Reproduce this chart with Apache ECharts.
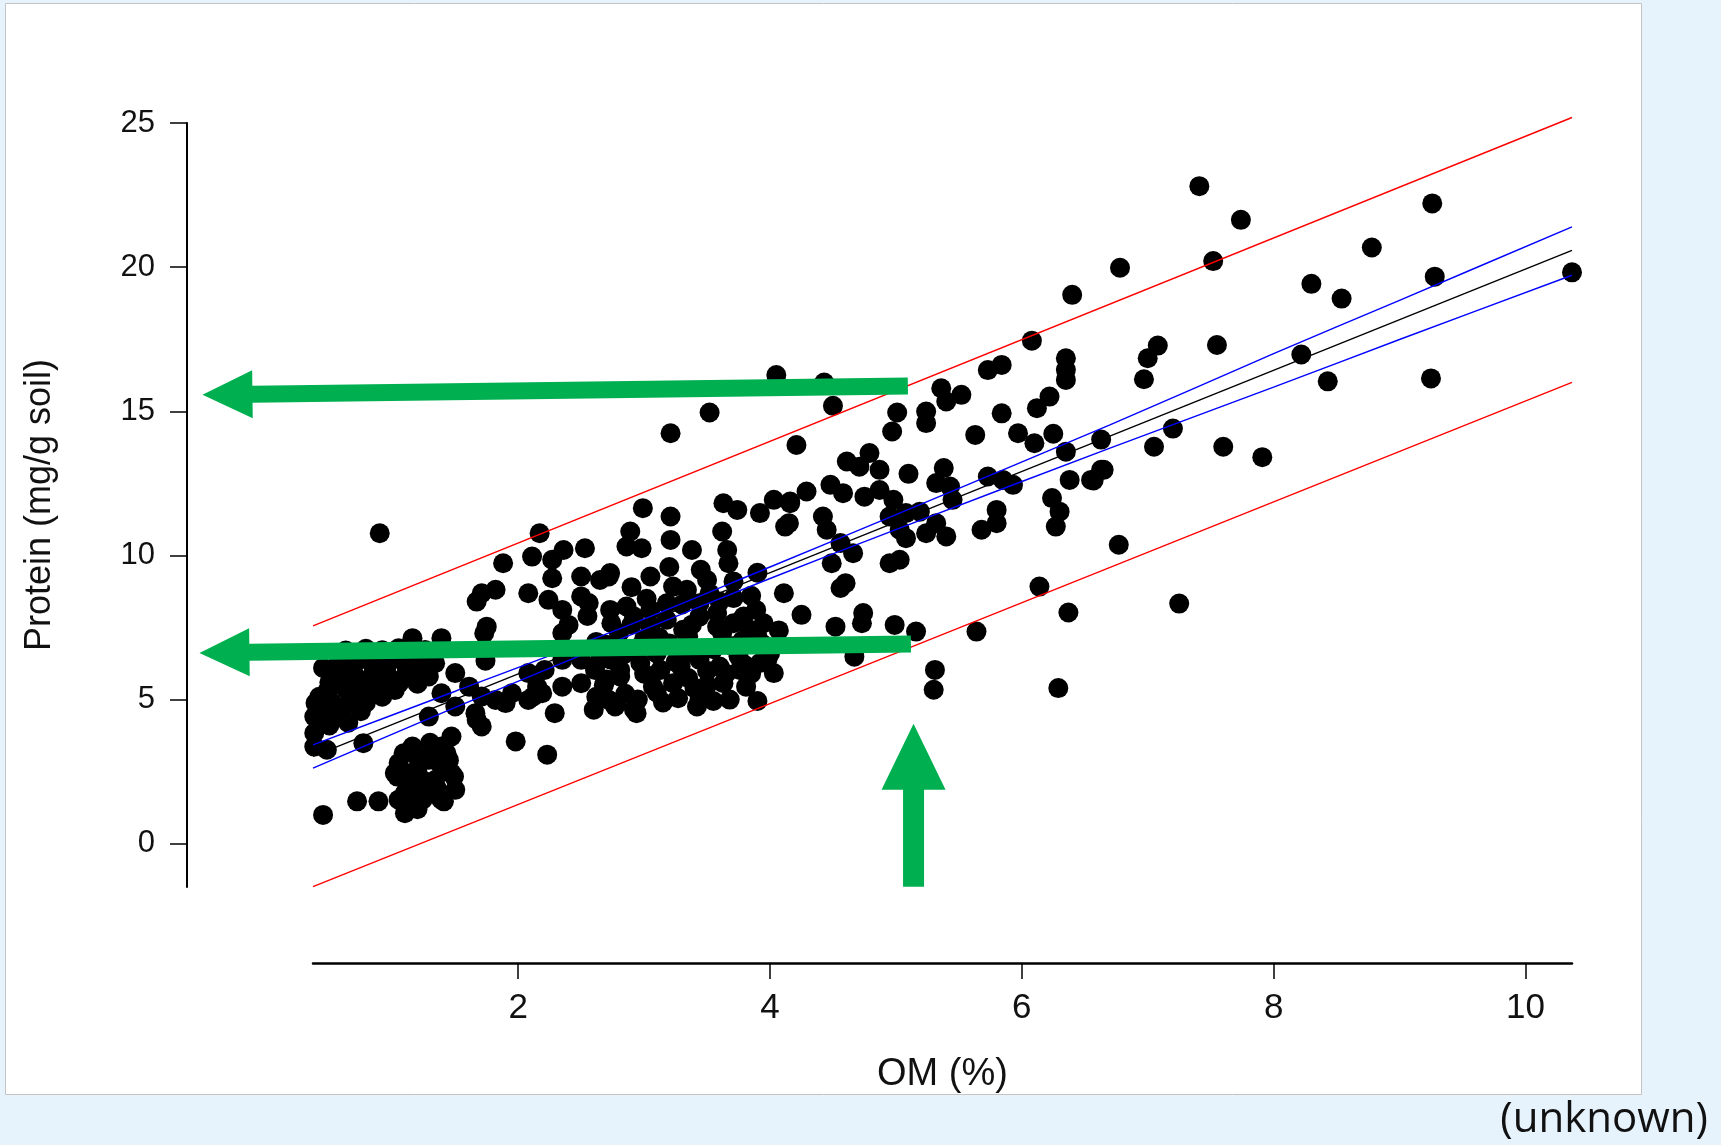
<!DOCTYPE html>
<html>
<head>
<meta charset="utf-8">
<script src="https://cdn.jsdelivr.net/npm/echarts@6/dist/echarts.min.js"></script>
<style>
html,body{margin:0;padding:0;background:#e6f2fc;}
#chart{width:1721px;height:1145px;}
</style>
</head>
<body>
<div id="chart"></div>
<script>
// ---- data (OM %, Protein mg/g soil) ----
const samples = [
  // sparse high-OM points
  [7.41,22.81],[7.74,21.64],[9.26,22.21],[6.78,19.98],[7.52,20.21],[8.78,20.68],[9.28,19.67],[10.37,19.82],
  [8.30,19.42],[8.54,18.91],[7.08,17.28],[7.00,16.84],[7.55,17.30],[6.97,16.11],[8.22,16.97],[8.43,16.04],
  [9.25,16.14],[6.63,14.02],[7.20,14.40],[7.05,13.77],[7.60,13.77],[7.91,13.41],[6.65,12.97],[6.57,12.60],
  [6.77,10.37],[7.25,8.33],[6.40,19.04],
  // OM 4-6.7
  [6.08,17.45],[6.35,16.84],[6.35,16.44],[6.35,16.09],[5.73,16.43],[5.84,16.61],[5.36,15.80],[5.52,15.57],
  [5.40,15.34],[4.50,15.19],[5.01,14.96],[5.24,14.99],[5.24,14.59],[5.84,14.93],[6.22,15.51],[6.12,15.11],
  [4.97,14.30],[5.63,14.18],[5.97,14.24],[6.25,14.22],[6.10,13.89],[4.21,13.83],[6.35,13.60],[4.61,13.26],
  [4.79,13.55],[4.87,12.97],[4.71,13.08],[5.10,12.83],[5.38,13.03],[5.32,12.51],[5.43,12.39],[5.45,11.93],
  [5.73,12.74],[5.85,12.62],[5.93,12.45],[6.38,12.62],[6.55,12.62],[6.63,12.97],[4.29,12.22],[4.16,11.87],
  [4.48,12.45],[4.58,12.16],[4.75,12.04],[4.87,12.27],[4.98,11.93],[4.42,11.35],[4.45,10.89],[4.12,11.00],
  [4.95,11.35],[5.08,11.47],[5.19,11.52],[5.03,10.89],[5.08,10.60],[5.24,10.77],[5.32,11.12],[5.40,10.66],
  [5.68,10.89],[5.80,11.58],[5.80,11.12],[6.24,11.99],[6.30,11.52],[6.27,11.00],[4.56,10.43],[4.66,10.08],
  [4.49,9.73],[4.95,9.73],[5.03,9.85],[4.60,9.04],[4.56,8.87],[4.11,8.69],[4.25,7.94],[4.52,7.53],
  [4.74,8.00],[4.73,7.65],[4.99,7.59],[5.16,7.36],[4.67,6.49],[5.64,7.36],[6.14,8.92],[6.37,8.02],
  [5.31,6.03],[5.30,5.34],[6.29,5.40],
  // upper-left scattered
  [0.90,10.77],[3.21,14.24],[3.52,14.96],[4.05,16.26],[4.43,16.00],[2.17,10.77],[1.88,9.73],[2.11,9.96],
  [2.27,9.85],[2.36,10.19],[2.53,10.25],
  // OM 2.6-4.2
  [2.99,11.64],[3.21,11.35],[2.89,10.83],[2.86,10.31],[2.98,10.25],[3.21,10.54],[3.38,10.19],[3.63,11.81],
  [3.74,11.58],[3.62,10.83],[3.66,10.19],[3.67,9.73],[3.92,11.47],[4.03,11.93],[4.15,11.12],[4.16,11.81],
  [2.65,9.15],[2.73,9.39],[3.05,9.27],[3.23,8.92],[3.34,8.81],[3.50,9.15],[3.52,8.69],[3.71,9.10],
  [3.71,8.52],[2.73,8.11],[2.86,8.23],[2.92,7.88],[3.05,8.11],[3.18,8.34],[3.44,8.34],[3.58,8.00],
  [3.79,7.88],[3.89,8.11],[3.05,7.53],[3.18,7.77],[3.31,7.42],[3.44,7.88],[3.58,7.53],[3.71,7.65],
  [3.84,7.42],[2.65,6.38],[2.81,6.03],[2.97,6.27],[3.13,6.03],[3.29,6.15],[3.44,6.38],[3.60,6.15],
  [3.76,6.03],[3.92,6.27],[4.03,5.92],[2.76,4.88],[2.92,4.65],[3.07,5.45],[3.23,5.57],[3.44,5.02],
  [3.63,5.57],[3.81,5.45],[4.07,7.40],[3.98,6.40],[2.70,6.90],[2.95,6.80],[3.20,6.95],[3.45,6.70],
  [3.70,6.85],[3.95,6.90],[2.80,7.30],[3.35,7.20],[3.90,7.20],
  [2.62,7.00],[2.68,5.50],[2.85,5.20],[2.90,7.60],[3.00,5.90],[3.10,6.60],[3.15,4.90],[3.27,5.05],
  [3.30,6.50],[3.38,7.60],[3.40,5.40],[3.50,6.00],[3.55,4.95],[3.62,7.30],[3.68,5.00],[3.75,6.50],
  [3.85,5.90],[3.90,4.95],[3.95,7.65],[4.00,6.60],[3.02,8.50],[3.30,8.30],[3.60,8.40],[3.85,8.60],
  [2.90,8.90],[3.20,9.60],[3.45,9.50],[3.90,9.40],[2.55,7.90],[2.62,5.10],[3.12,7.15],[3.55,6.75],
  [3.78,7.05],[2.70,5.70],[2.85,6.60],[3.00,7.10],[3.25,6.30],[3.50,5.50],[3.65,5.90],[3.80,6.20],
  [3.35,5.75],[3.10,5.25],[2.95,5.00],
  // OM 1.5-2.8
  [1.71,8.69],[1.82,8.81],[1.67,8.40],[2.08,8.69],[2.27,9.21],[2.24,8.46],[2.35,8.11],[2.50,9.27],
  [2.72,9.27],[2.50,8.58],[2.56,8.35],[1.75,7.53],[2.40,7.59],[2.35,7.31],[2.74,7.65],[1.73,7.30],
  [1.74,6.35],[2.08,5.92],[1.95,5.22],[1.50,5.92],[1.61,5.45],[1.39,5.22],[1.29,4.41],[1.50,4.76],
  [1.66,4.53],[1.71,4.07],[1.71,5.11],[1.82,4.99],[1.90,4.88],[1.98,3.55],[2.23,3.09],[2.08,4.99],
  [2.19,5.22],[2.29,4.53],[2.35,5.45],[2.50,5.57],[2.61,6.03],[2.74,6.38],[2.81,5.80],[2.72,4.99],
  [2.21,6.03],[2.35,6.38],[2.50,6.38],[2.77,4.76],[2.60,4.65],[2.78,4.88],[2.94,4.53],[3.42,4.76],
  [2.12,5.11],[2.15,5.45],[1.67,4.30],
  // dense low-OM cluster
  [1.16,7.13],[1.39,7.13],[0.63,6.70],[0.79,6.76],[0.92,6.71],[1.05,6.78],[1.26,6.72],
  [0.57,6.27],[0.71,6.30],[0.84,6.24],[0.97,6.29],[1.10,6.25],[1.24,6.31],[1.34,6.26],
  [0.57,5.82],[0.71,5.78],[0.84,5.83],[0.97,5.79],[1.10,5.81],[1.29,5.80],
  [0.49,5.34],[0.63,5.36],[0.76,5.32],[0.89,5.35],[1.02,5.33],
  [0.39,4.88],[0.52,4.90],[0.65,4.86],[0.79,4.89],[0.38,4.41],[0.47,4.43],[0.60,4.40],
  [0.43,4.30],[0.38,3.84],[0.38,3.37],[0.48,3.26],[0.77,3.49],
  [0.45,6.10],[0.50,5.60],[0.42,5.10],[0.55,4.60],[0.68,5.10],[0.82,5.55],[0.95,6.00],[1.05,5.55],
  [1.18,6.00],[1.20,5.55],[0.70,6.55],[0.88,6.50],[1.00,6.55],[1.15,6.60],[0.60,6.00],[0.75,4.60],
  [0.92,5.10],[1.30,6.55],[0.50,4.10],[0.65,4.20],
  [1.47,3.72],[1.39,3.37],[1.16,3.37],[1.29,2.91],[1.10,2.45],[1.24,2.21],[1.34,2.21],[1.47,2.45],
  [1.50,1.87],[1.39,1.53],[1.24,1.53],[1.10,1.76],[1.02,2.45],[1.13,1.29],[1.05,1.53],[1.10,1.06],
  [1.43,3.14],[1.49,2.33],[1.09,3.14],[1.04,2.33],[1.17,1.99],
  [1.20,3.00],[1.30,3.50],[1.05,2.80],[1.20,2.60],[1.38,2.75],[1.15,2.15],[1.30,1.80],[1.20,1.20],
  [1.35,1.95],[1.45,2.90],
  [0.45,1.00],[0.72,1.47],[0.89,1.47],[1.41,1.47]
];

// regression line and bands
const fitLine = [[0.37,3.03],[10.37,20.58]];
const predUpper = [[0.37,7.56],[10.37,25.19]];
const predLower = [[0.37,-1.49],[10.37,16.00]];
const confX = [0.37,1.5,2.85,4.0,5.03,6.7,8.0,9.0,10.37];
const confUpper = [3.43,5.29,7.53,9.60,11.47,14.53,17.00,18.85,21.40];
const confLower = [2.62,4.73,7.17,9.20,10.95,13.72,15.84,17.49,19.72];

const xTicks = [2,4,6,8,10];
const yTicks = [0,5,10,15,20,25];

// annotation arrows (data coordinates: tail -> tip)
const arrows = [
  {tail:[5.095,15.88], tip:[-0.508,15.57], shaft:17, headLen:50, headW:48},
  {tail:[5.119,6.93], tip:[-0.532,6.62], shaft:17, headLen:50, headW:48},
  {tail:[5.14,-1.49], tip:[5.14,4.16], shaft:21, headLen:66, headW:64}
];

const chart = echarts.init(document.getElementById('chart'), null, {renderer:'canvas'});
const font = 'Liberation Sans, Arial, sans-serif';

const lineSeries = (data, color, smooth) => ({
  type:'line', data, showSymbol:false, symbol:'none', smooth: smooth || false, clip:false,
  lineStyle:{color, width:1.4}, z:3, silent:true, animation:false
});

chart.setOption({
  animation:false,
  backgroundColor:'#e6f2fc',
  grid:{left:313, right:149, top:123, bottom:258, containLabel:false},
  xAxis:{
    type:'value', min:0.37, max:10.37, offset:76,
    axisLine:{show:true, onZero:false, lineStyle:{color:'#000', width:2.5}},
    axisTick:{show:true, customValues:xTicks, length:16, lineStyle:{color:'#000', width:1.5}},
    axisLabel:{customValues:xTicks, fontSize:35, color:'#111', margin:28, fontFamily:font},
    splitLine:{show:false},
    name:'OM (%)', nameLocation:'middle', nameGap:93,
    nameTextStyle:{fontSize:38, color:'#111', fontFamily:font}
  },
  yAxis:{
    type:'value', min:-1.5, max:25, offset:126,
    axisLine:{show:true, onZero:false, lineStyle:{color:'#000', width:2}},
    axisTick:{show:true, customValues:yTicks, length:17, lineStyle:{color:'#000', width:1.5}},
    axisLabel:{customValues:yTicks, fontSize:31, color:'#111', margin:32, fontFamily:font},
    splitLine:{show:false},
    name:'Protein (mg/g soil)', nameLocation:'middle', nameGap:129,
    nameTextStyle:{fontSize:36, color:'#111', fontFamily:font}
  },
  series:[
    {type:'scatter', data:samples, symbol:'circle', symbolSize:20,
     itemStyle:{color:'#000', opacity:1}, z:2, silent:true, animation:false},
    lineSeries(predUpper, '#ff0000'),
    lineSeries(predLower, '#ff0000'),
    lineSeries(confX.map((x,i)=>[x,confUpper[i]]), '#0000ff', 0.3),
    lineSeries(confX.map((x,i)=>[x,confLower[i]]), '#0000ff', 0.3),
    lineSeries(fitLine, '#000000')
  ]
});

function arrowPolygon(a){
  const p0 = chart.convertToPixel({gridIndex:0}, a.tail);
  const p1 = chart.convertToPixel({gridIndex:0}, a.tip);
  const dx = p1[0]-p0[0], dy = p1[1]-p0[1];
  const L = Math.hypot(dx,dy);
  const ux = dx/L, uy = dy/L, nx = -uy, ny = ux;
  const bx = p1[0]-ux*a.headLen, by = p1[1]-uy*a.headLen;
  const s = a.shaft/2, h = a.headW/2;
  return [
    [p0[0]+nx*s, p0[1]+ny*s],[bx+nx*s, by+ny*s],[bx+nx*h, by+ny*h],
    [p1[0],p1[1]],
    [bx-nx*h, by-ny*h],[bx-nx*s, by-ny*s],[p0[0]-nx*s, p0[1]-ny*s]
  ];
}

const graphics = [
  {type:'rect', z:-100, silent:true,
   shape:{x:5.5, y:3.5, width:1636, height:1091},
   style:{fill:'#ffffff', stroke:'#c4c4c4', lineWidth:1}},
  {type:'text', z:100, silent:true, right:13, top:1099,
   style:{text:'(unknown)', font:'42px "Open Sans", sans-serif', fill:'#111'}}
];
arrows.forEach(a=>{
  graphics.push({type:'polygon', z:100, silent:true,
    shape:{points:arrowPolygon(a)}, style:{fill:'#00b050'}});
});
chart.setOption({graphic:graphics});
</script>
</body>
</html>
